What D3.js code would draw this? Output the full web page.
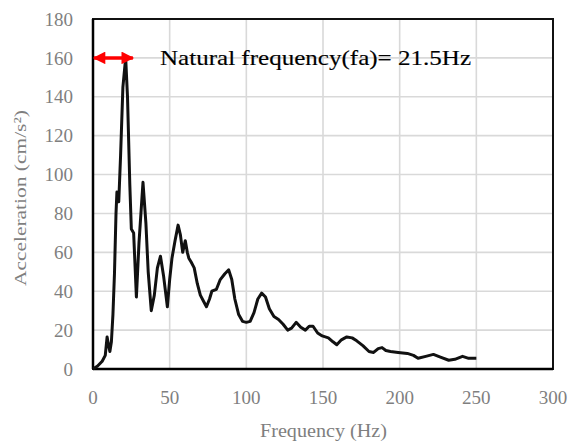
<!DOCTYPE html>
<html>
<head>
<meta charset="utf-8">
<script src="https://cdn.jsdelivr.net/npm/d3@7"></script>
<style>
  body { margin: 0; background: #fff; }
  svg { display: block; }
</style>
</head>
<body>
<svg id="chart"></svg>
<script>
const w = 574;
const h = 443;

// frequency (Hz) and acceleration (cm/s²)
const freq = [0, 3, 6, 8, 9.2, 10.2, 11, 12, 13, 14, 15, 15.6, 16.8, 18, 19.5, 21.3, 22.5, 24, 25, 26.5,
  28.3, 30, 32.6, 34.5, 36, 38, 40, 42, 44, 46, 48.5, 50, 51.5, 53.5, 55.5, 57, 58.5, 60.2, 61.5, 62.5,
  64, 66, 68, 70, 72, 74, 76, 77.5, 80.5, 83, 86, 88.5, 90.5, 92.5, 95, 97.5, 100, 102.5, 105, 107.5,
  110, 112.5, 115, 118, 121, 124, 127, 129.5, 132.5, 135.5, 138.5, 141, 143.5, 146.5, 149.5, 153.5, 156.5, 159,
  162, 165.5, 169, 172, 176, 180, 183, 186, 188.5, 191, 194, 199, 205, 209, 212, 217, 222, 227, 232, 236,
  241, 245, 250];
const accel = [0, 1.5, 4, 7, 16.5, 12, 9, 14, 28, 49, 80, 91, 86, 110, 145, 160, 140, 95, 72, 70,
  37, 65, 96, 75, 50, 30, 38, 52, 58, 48, 32, 46, 57, 66, 74, 69, 60, 66, 60, 57,
  55, 52, 44, 38, 35, 32, 36, 40, 41, 46, 49, 51, 46, 36, 28, 24.5, 24, 24.5, 29, 36,
  39, 37, 31, 27, 25.5, 23, 20, 21, 24, 21.5, 20, 22, 22, 18.5, 17, 16, 14, 12.5,
  15, 16.5, 16, 14.5, 12, 9, 8.5, 10.5, 11, 9.5, 9, 8.5, 8, 7, 5.5, 6.5, 7.5, 6, 4.5, 5,
  6.5, 5.5, 5.5];

const xTicks = [0, 50, 100, 150, 200, 250, 300];
const yTicks = [0, 20, 40, 60, 80, 100, 120, 140, 160, 180];
const arrowSpan = [0, 26];
const arrowLevel = 160;
const noteText = "Natural frequency(fa)= 21.5Hz";

const margin = {top: 19, right: 21, bottom: 74, left: 93};

const svg = d3.select("#chart")
  .attr("width", w)
  .attr("height", h)
  .attr("viewBox", [0, 0, w, h]);

const x = d3.scaleLinear()
  .domain([0, 300])
  .range([margin.left, w - margin.right]);

const y = d3.scaleLinear()
  .domain([0, 180])
  .range([h - margin.bottom, margin.top]);

const serif = "'Liberation Serif', 'DejaVu Serif', serif";

// grid
svg.append("g")
  .selectAll("line")
  .data(xTicks)
  .enter()
  .append("line")
  .attr("x1", d => x(d))
  .attr("x2", d => x(d))
  .attr("y1", y(0))
  .attr("y2", y(180))
  .attr("stroke", "#d9d9d9")
  .attr("stroke-width", 1.6);

svg.append("g")
  .selectAll("line")
  .data(yTicks)
  .enter()
  .append("line")
  .attr("x1", x(0))
  .attr("x2", x(300))
  .attr("y1", d => y(d))
  .attr("y2", d => y(d))
  .attr("stroke", "#d9d9d9")
  .attr("stroke-width", 1.6);

// frame
svg.append("rect")
  .attr("x", x(0))
  .attr("y", y(180))
  .attr("width", x(300) - x(0))
  .attr("height", y(0) - y(180))
  .attr("fill", "none")
  .attr("stroke", "#111")
  .attr("stroke-width", 2);

svg.append("line")
  .attr("x1", x(0)).attr("x2", x(300))
  .attr("y1", y(0)).attr("y2", y(0))
  .attr("stroke", "#000").attr("stroke-width", 2.5);
svg.append("line")
  .attr("x1", x(0)).attr("x2", x(0))
  .attr("y1", y(0)).attr("y2", y(180))
  .attr("stroke", "#000").attr("stroke-width", 2.5);

// tick labels
svg.append("g")
  .selectAll("text")
  .data(yTicks)
  .enter()
  .append("text")
  .text(d => d)
  .attr("x", margin.left - 20)
  .attr("y", d => y(d))
  .attr("dy", "0.35em")
  .attr("text-anchor", "end")
  .attr("font-family", serif)
  .attr("font-size", 19)
  .attr("fill", "#7f7f7f");

svg.append("g")
  .selectAll("text")
  .data(xTicks)
  .enter()
  .append("text")
  .text(d => d)
  .attr("x", d => x(d))
  .attr("y", y(0) + 35)
  .attr("text-anchor", "middle")
  .attr("font-family", serif)
  .attr("font-size", 19)
  .attr("fill", "#7f7f7f");

// axis titles
svg.append("text")
  .text("Frequency (Hz)")
  .attr("x", 260)
  .attr("y", 437)
  .attr("font-family", serif)
  .attr("font-size", 19)
  .attr("textLength", 127)
  .attr("lengthAdjust", "spacingAndGlyphs")
  .attr("fill", "#7f7f7f");

svg.append("text")
  .text("Acceleration (cm/s²)")
  .attr("transform", "translate(26,286) rotate(-90)")
  .attr("font-family", serif)
  .attr("font-size", 17)
  .attr("textLength", 176)
  .attr("lengthAdjust", "spacingAndGlyphs")
  .attr("fill", "#7f7f7f");

// spectrum
const line = d3.line()
  .x((d, i) => x(freq[i]))
  .y(d => y(d));

svg.append("path")
  .datum(accel)
  .attr("d", line)
  .attr("fill", "none")
  .attr("stroke", "#111")
  .attr("stroke-width", 3)
  .attr("stroke-linejoin", "round");

// red double arrow
const defs = svg.append("defs");
defs.append("marker")
  .attr("id", "head")
  .attr("viewBox", "0 0 10 10")
  .attr("refX", 9)
  .attr("refY", 5)
  .attr("markerWidth", 4)
  .attr("markerHeight", 3.6)
  .attr("orient", "auto-start-reverse")
  .append("path")
  .attr("d", "M0,0 L10,5 L0,10 Z")
  .attr("fill", "#ff0000");

svg.append("line")
  .attr("x1", x(arrowSpan[0]) + 1)
  .attr("x2", x(arrowSpan[1]))
  .attr("y1", y(arrowLevel))
  .attr("y2", y(arrowLevel))
  .attr("stroke", "#ff0000")
  .attr("stroke-width", 3.5)
  .attr("marker-start", "url(#head)")
  .attr("marker-end", "url(#head)");

// annotation
svg.append("text")
  .text(noteText)
  .attr("x", 160)
  .attr("y", y(arrowLevel) + 7)
  .attr("font-family", serif)
  .attr("font-size", 22)
  .attr("textLength", 311)
  .attr("lengthAdjust", "spacingAndGlyphs")
  .attr("fill", "#000")
  .attr("stroke", "#000")
  .attr("stroke-width", 0.15);
</script>
</body>
</html>
